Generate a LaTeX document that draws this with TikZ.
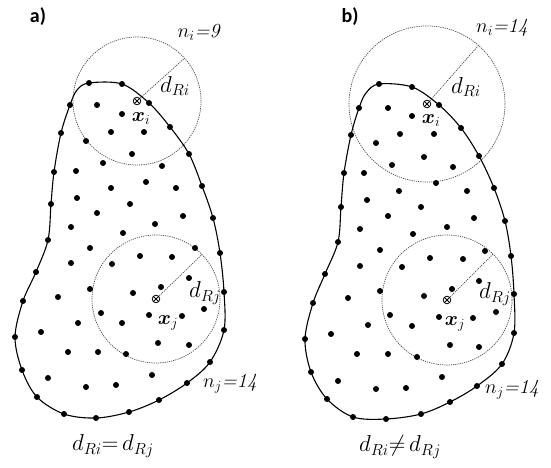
\RequirePackage{fix-cm}
\documentclass[tikz,border=0pt]{standalone}
\usepackage{amsmath}
\usepackage{fontspec}
\newfontfamily\panelfont{Carlito}
\begin{document}
\begin{tikzpicture}[x=1pt,y=-1pt,
  ring/.style={draw=black!70, dash pattern=on 1.2pt off 1pt, line width=0.7pt},
  radline/.style={draw=black!70, dash pattern=on 1.2pt off 1pt, line width=0.7pt},
  border/.style={draw=black, line width=1.1pt},
  lbl/.style={inner sep=0pt, font=\fontsize{20}{23}\selectfont},
  dlbl/.style={inner sep=0pt, font=\fontsize{23}{26}\selectfont},
  xlbl/.style={inner sep=0pt, font=\fontsize{20}{23}\selectfont},
  panel/.style={inner sep=0pt, font=\fontsize{20}{22}\selectfont\panelfont\bfseries},
  cross/.style={draw=black, line width=0.8pt}]
\useasboundingbox (0,0) rectangle (551,468);
\fill[white] (0,0) rectangle (551,468);

% ---------------- panel a ----------------
\node[panel] (pa) at (38,17) {a)};
\coordinate (cia) at (137,101);
\coordinate (cja) at (156,299);
\draw[ring] (cia) circle (64pt);
\draw[ring] (cja) circle (64pt);
\coordinate (ria) at (184.6,58.2);
\coordinate (rja) at (202,254.5);
\draw[radline] (cia) -- (ria);
\draw[radline] (cja) -- (rja);

\draw[border] plot[smooth cycle, tension=0.55] coordinates {
 (70,105) (77,90) (89,83) (122,84) (149,103) (170,127) (189,154) (202,186)
 (213,218) (220,253) (224,292) (224,330) (210,362) (187,383) (159,400)
 (129,412) (96,418) (64,414) (37,397) (22,370) (15,337) (23,301) (36,272)
 (48,240) (51,204) (54,172) (61,133)};
\foreach \p in {(70,105),(89,83),(122,84),(149,103),(170,127),(189,154),(202,186),
 (213,218),(220,253),(224,292),(224,330),(210,362),(187,383),(159,400),
 (129,412),(96,418),(64,414),(37,397),(22,370),(15,337),(23,301),(36,272),
 (48,240),(51,204),(54,172),(61,133)}
  \fill \p circle (3pt);
\foreach \p in {(97,105),(122,114),(111,132),(144,132),(86,141),(132,154),(103,163),
 (162,166),(76,171),(146,182),(111,188),(176,188),(77,198),(130,204),(97,213),
 (183,216),(71,227),(155,224),(123,233),
 (90,248),(140,256),(172,257),(195,248),(71,263),(112,264),(189,278),(161,287),
 (90,289),(133,293),(58,297),
 (204,309),(101,313),(149,315),(182,316),(78,323),(122,323),(41,332),(158,343),
 (189,345),(68,352),(98,352),(126,354),(152,375),(48,378),(86,387),(116,385)}
  \fill \p circle (3pt);

\fill[white] (cia) circle (3.8pt);
\draw[cross] (cia) circle (3.8pt);
\draw[cross] (cia) ++(-2.7pt,-2.7pt) -- ++(5.4pt,5.4pt);
\draw[cross] (cia) ++(-2.7pt,2.7pt) -- ++(5.4pt,-5.4pt);
\fill[white] (cja) circle (3.8pt);
\draw[cross] (cja) circle (3.8pt);
\draw[cross] (cja) ++(-2.7pt,-2.7pt) -- ++(5.4pt,5.4pt);
\draw[cross] (cja) ++(-2.7pt,2.7pt) -- ++(5.4pt,-5.4pt);

\node[lbl] (nia) at (199,32) {$n_i$\textit{=9}};
\node[dlbl] (dria) at (175,86) {$d_{Ri}$};
\node[xlbl] (xia) at (141,119) {$\boldsymbol{x}_i$};
\node[dlbl] (drja) at (205,293) {$d_{Rj}$};
\node[xlbl] (xja) at (168,323) {$\boldsymbol{x}_j$};
\node[lbl] (nja) at (230,384) {$n_j$\textit{=14}};
\node[dlbl] (eqa) at (113,446) {$d_{Ri}{=}\,d_{Rj}$};

% ---------------- panel b ----------------
\node[panel] (pb) at (350,17) {b)};
\coordinate (cib) at (427,104);
\coordinate (cjb) at (447,300);
\draw[ring] (cib) circle (78pt);
\draw[ring] (cjb) circle (65pt);
\coordinate (rib) at (478.5,45.4);
\coordinate (rjb) at (493,254);
\draw[radline] (cib) -- (rib);
\draw[radline] (cjb) -- (rjb);

\draw[border] plot[smooth cycle, tension=0.55] coordinates {
 (359,108) (366,93) (379,84) (412,87) (439,105) (461,128) (479,156) (494,188)
 (505,221) (511,256) (514,294) (514,333) (502,364) (477,386) (450,402)
 (421,414) (386,419) (353,417) (327,399) (311,372) (305,339) (313,303)
 (325,274) (338,242) (341,207) (344,173) (351,135)};
\foreach \p in {(359,108),(379,84),(412,87),(439,105),(461,128),(479,156),(494,188),
 (505,221),(511,256),(514,294),(514,333),(502,364),(477,386),(450,402),
 (421,414),(386,419),(353,417),(327,399),(311,372),(305,339),(313,303),
 (325,274),(338,242),(341,207),(344,173),(351,135)}
  \fill \p circle (3pt);
\foreach \p in {(388,108),(412,116),(400,134),(434,134),(376,143),(424,157),(392,165),
 (453,167),(364,173),(436,183),(399,191),(467,191),(367,200),(421,207),(388,216),
 (474,218),(360,229),(447,227),(413,234),
 (380,250),(430,258),(463,259),(485,251),(360,266),(402,267),(479,281),(452,289),
 (380,291),(424,296),(348,298),
 (496,312),(390,315),(439,317),(473,318),(368,325),(412,326),(331,334),(450,345),
 (479,347),(357,354),(388,354),(417,357),(442,377),(338,381),(376,389),(406,388)}
  \fill \p circle (3pt);

\fill[white] (cib) circle (3.8pt);
\draw[cross] (cib) circle (3.8pt);
\draw[cross] (cib) ++(-2.7pt,-2.7pt) -- ++(5.4pt,5.4pt);
\draw[cross] (cib) ++(-2.7pt,2.7pt) -- ++(5.4pt,-5.4pt);
\fill[white] (cjb) circle (3.8pt);
\draw[cross] (cjb) circle (3.8pt);
\draw[cross] (cjb) ++(-2.7pt,-2.7pt) -- ++(5.4pt,5.4pt);
\draw[cross] (cjb) ++(-2.7pt,2.7pt) -- ++(5.4pt,-5.4pt);

\node[lbl] (nib) at (502,28) {$n_i$\textit{=14}};
\node[dlbl] (drib) at (466,87) {$d_{Ri}$};
\node[xlbl] (xib) at (431,121) {$\boldsymbol{x}_i$};
\node[dlbl] (drjb) at (495,294) {$d_{Rj}$};
\node[xlbl] (xjb) at (455,324) {$\boldsymbol{x}_j$};
\node[lbl] (njb) at (512,390) {$n_j$\textit{=14}};
\node[dlbl] (eqb) at (400,447) {$d_{Ri}{\neq}\,d_{Rj}$};
\end{tikzpicture}
\end{document}
